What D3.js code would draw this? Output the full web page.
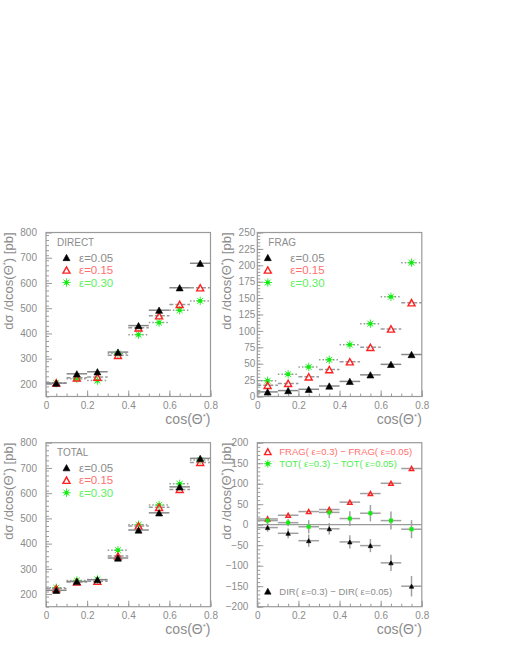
<!DOCTYPE html>
<html>
<head>
<meta charset="utf-8">
<script src="https://cdn.jsdelivr.net/npm/d3@7"></script>
<style>
  body { margin: 0; background: #fff; }
  text { font-family: "Liberation Sans", "DejaVu Sans", sans-serif; }
</style>
</head>
<body>
<div id="chart"></div>
<script>
// bin centres in cos(theta*)
var bins = [0.05, 0.15, 0.25, 0.35, 0.45, 0.55, 0.65, 0.75];
var halfBin = 0.05;

// DIRECT
var dir05 = [203, 240, 248, 326, 431, 492, 581, 678];
var dir15 = [204, 224, 227, 313, 422, 470, 515, 581];
var dir30 = [203, 220, 213, 320, 395, 443, 492, 529];

// FRAG
var frag05 = [7, 9, 11, 16, 23, 33, 49, 64];
var frag15 = [17, 20, 30, 41, 53, 75, 103, 143];
var frag30 = [24, 34, 45, 56, 79, 111, 152, 204];

// TOTAL
var tot05 = [215, 250, 257, 343, 454, 522, 625, 738];
var tot15 = [222, 248, 251, 351, 470, 544, 615, 722];
var tot30 = [225, 254, 258, 374, 475, 553, 637, 731];

// differences eps=0.3 - eps=0.05
var diffFrag = [14, 23, 32, 37, 55, 76, 101, 137];
var diffTot = [10, 5, -5, 30, 15, 28, 10, -11];
var diffDir = [-7, -21, -39, -10, -42, -51, -93, -150];
var errTot = [12, 9, 16, 14, 18, 20, 22, 22];
var errDir = [10, 12, 15, 14, 16, 16, 20, 25];

var legendLabels = ["\u03b5=0.05", "\u03b5=0.15", "\u03b5=0.30"];

var grey = "#8c8c8c";
var frameCol = "#9a9a9a";
var red = "#ff2020";
var green = "#10ee10";

var svg = d3.select("#chart").append("svg")
  .attr("width", 505)
  .attr("height", 654);

var panelW = 164.5, panelH = 164;

var panels = [
  {x: 46, y: 232.5, domain: [150, 800], major: 100, minor: 20, labelGap: 9, title: "DIRECT",
   series: [dir05, dir15, dir30], legendMarkX: 20.5},
  {x: 257.3, y: 232.5, domain: [0, 250], major: 25, minor: 5, labelGap: 2, title: "FRAG",
   series: [frag05, frag15, frag30], legendMarkX: 10.5},
  {x: 46, y: 442.7, domain: [150, 800], major: 100, minor: 20, labelGap: 9, title: "TOTAL",
   series: [tot05, tot15, tot30], legendMarkX: 20.5},
  {x: 257.3, y: 442.7, domain: [-200, 200], major: 50, minor: 10, labelGap: 9, title: null}
];

function triangle(g, cx, cy, s, fill, stroke) {
  var h = s * 0.9;
  g.append("path")
    .attr("d", "M" + (cx - s / 2) + "," + (cy + h / 2) + "L" + (cx + s / 2) + "," + (cy + h / 2) +
      "L" + cx + "," + (cy - h / 2) + "Z")
    .attr("fill", fill)
    .attr("stroke", stroke)
    .attr("stroke-width", fill == "none" ? 1.4 : 0.6)
    .attr("stroke-linejoin", "miter");
}

function star(g, cx, cy, r) {
  var d = "";
  for (var k = 0; k < 4; k++) {
    var a = k * Math.PI / 4;
    d += "M" + (cx - r * Math.cos(a)) + "," + (cy - r * Math.sin(a)) +
      "L" + (cx + r * Math.cos(a)) + "," + (cy + r * Math.sin(a));
  }
  g.append("path").attr("d", d).attr("stroke", green).attr("stroke-width", 1).attr("opacity", 0.85);
  g.append("rect").attr("x", cx - 1.8).attr("y", cy - 1.8).attr("width", 3.6).attr("height", 3.6)
    .attr("fill", green);
}

function marker(g, i, cx, cy, s) {
  if (i == 0) triangle(g, cx, cy, s, "#000", "#000");
  else if (i == 1) triangle(g, cx, cy, s, "none", red);
  else star(g, cx, cy, s * 0.6);
}

var dashes = [null, "4,2", "1.5,2"];

panels.forEach(function(p, pi) {
  var g = svg.append("g").attr("transform", "translate(" + p.x + "," + p.y + ")");

  var x = d3.scaleLinear().domain([0, 0.8]).range([0, panelW]);
  var y = d3.scaleLinear().domain(p.domain).range([panelH, 0]);

  // minor y ticks
  g.append("g")
    .call(d3.axisLeft(y).tickValues(d3.range(p.domain[0], p.domain[1] + 0.001, p.minor))
      .tickSize(-3).tickFormat(""))
    .call(function(a) { a.select(".domain").remove(); a.selectAll("line").attr("stroke", frameCol); });
  // major y ticks + labels
  var majors = d3.range(Math.ceil(p.domain[0] / p.major) * p.major, p.domain[1] + 0.001, p.major);
  if (p.domain[0] == 150) majors = majors.filter(function(v) { return v >= 200; });
  g.append("g")
    .call(d3.axisLeft(y).tickValues(majors).tickSizeInner(-6).tickSizeOuter(0)
      .tickPadding(p.labelGap).tickFormat(d3.format("d")))
    .call(function(a) {
      a.select(".domain").remove();
      a.selectAll("line").attr("stroke", frameCol);
      a.selectAll("text").attr("fill", grey).style("font-size", "10px")
        .text(function(d) { return d < 0 ? "\u2212" + (-d) : d; });
    });

  // x ticks
  g.append("g").attr("transform", "translate(0," + panelH + ")")
    .call(d3.axisBottom(x).tickValues(d3.range(0, 0.801, 0.05)).tickSize(-3).tickFormat(""))
    .call(function(a) { a.select(".domain").remove(); a.selectAll("line").attr("stroke", frameCol); });
  g.append("g").attr("transform", "translate(0," + panelH + ")")
    .call(d3.axisBottom(x).tickValues([0, 0.2, 0.4, 0.6, 0.8]).tickSizeInner(-6).tickSizeOuter(0)
      .tickPadding(5).tickFormat(function(d) { return d == 0 ? "0" : d3.format(".1f")(d); }))
    .call(function(a) {
      a.select(".domain").remove();
      a.selectAll("line").attr("stroke", frameCol);
      a.selectAll("text").attr("fill", grey).style("font-size", "10px");
    });

  // frame
  g.append("rect").attr("width", panelW).attr("height", panelH)
    .attr("fill", "none").attr("stroke", frameCol).attr("stroke-width", 1.2);

  // axis titles
  var yl = g.append("text")
    .attr("transform", "translate(" + (pi % 2 == 0 ? -33 : -26) + ",0) rotate(-90)")
    .attr("text-anchor", "end")
    .attr("fill", grey)
    .style("font-size", "13px");
  yl.append("tspan").text("d\u03c3 /dcos(\u0398");
  yl.append("tspan").attr("dy", -5).style("font-size", "8px").text("*");
  yl.append("tspan").attr("dy", 5).text(") [pb]");

  var xl = g.append("text")
    .attr("x", panelW).attr("y", panelH + 27)
    .attr("text-anchor", "end")
    .attr("fill", grey)
    .style("font-size", "14px");
  xl.append("tspan").text("cos(\u0398");
  xl.append("tspan").attr("dy", -5).style("font-size", "8px").text("*");
  xl.append("tspan").attr("dy", 5).text(")");

  if (p.series) {
    // draw series: eps 0.30 first, black on top
    [2, 1, 0].forEach(function(si) {
      var vals = p.series[si];
      var sg = g.append("g");
      bins.forEach(function(b, k) {
        sg.append("line")
          .attr("x1", x(b - halfBin)).attr("x2", x(b + halfBin))
          .attr("y1", y(vals[k])).attr("y2", y(vals[k]))
          .attr("stroke", si == 0 ? "#888" : "#9a9a9a")
          .attr("stroke-width", 1.5)
          .attr("stroke-dasharray", dashes[si]);
        marker(sg, si, x(b), y(vals[k]), 7);
      });
    });

    // legend
    g.append("text").attr("x", 11).attr("y", 13).attr("fill", grey)
      .style("font-size", "10px").text(p.title);
    var rows = [25, 37.5, 50];
    var textCols = [grey, "#ff7070", "#60f060"];
    legendLabels.forEach(function(lab, i) {
      marker(g, i, p.legendMarkX, rows[i], 7);
      g.append("text").attr("x", 33).attr("y", rows[i] + 4)
        .attr("fill", textCols[i]).style("font-size", "11.5px").text(lab);
    });
  } else {
    // difference panel
    g.append("line").attr("x1", 0).attr("x2", panelW).attr("y1", y(0)).attr("y2", y(0))
      .attr("stroke", frameCol).attr("stroke-width", 1.2);

    var diffs = [
      {vals: diffFrag, err: null, idx: 1},
      {vals: diffTot, err: errTot, idx: 2},
      {vals: diffDir, err: errDir, idx: 0}
    ];
    diffs.forEach(function(s) {
      bins.forEach(function(b, k) {
        g.append("line")
          .attr("x1", x(b - halfBin)).attr("x2", x(b + halfBin))
          .attr("y1", y(s.vals[k])).attr("y2", y(s.vals[k]))
          .attr("stroke", "#a0a0a0").attr("stroke-width", 1.5);
        if (s.err) {
          g.append("line")
            .attr("x1", x(b)).attr("x2", x(b))
            .attr("y1", y(s.vals[k] - s.err[k])).attr("y2", y(s.vals[k] + s.err[k]))
            .attr("stroke", "#a0a0a0").attr("stroke-width", 1.5);
        }
      });
    });
    diffs.forEach(function(s) {
      bins.forEach(function(b, k) {
        if (s.idx == 2) {
          g.append("rect").attr("x", x(b) - 2).attr("y", y(s.vals[k]) - 2)
            .attr("width", 4).attr("height", 4).attr("fill", green);
        } else {
          marker(g, s.idx, x(b), y(s.vals[k]), 4.5);
        }
      });
    });

    var dl = [
      {t: "FRAG( \u03b5=0.3) \u2212 FRAG( \u03b5=0.05)", c: "#ff7070", idx: 1, yy: 9},
      {t: "TOT( \u03b5=0.3) \u2212 TOT( \u03b5=0.05)", c: "#50ee50", idx: 2, yy: 21},
      {t: "DIR( \u03b5=0.3) \u2212 DIR( \u03b5=0.05)", c: grey, idx: 0, yy: 148.5}
    ];
    dl.forEach(function(d) {
      marker(g, d.idx, 10.5, d.yy, 6.5);
      g.append("text").attr("x", 22).attr("y", d.yy + 3.5).attr("fill", d.c)
        .style("font-size", "9.5px").text(d.t);
    });
  }
});
</script>
</body>
</html>
